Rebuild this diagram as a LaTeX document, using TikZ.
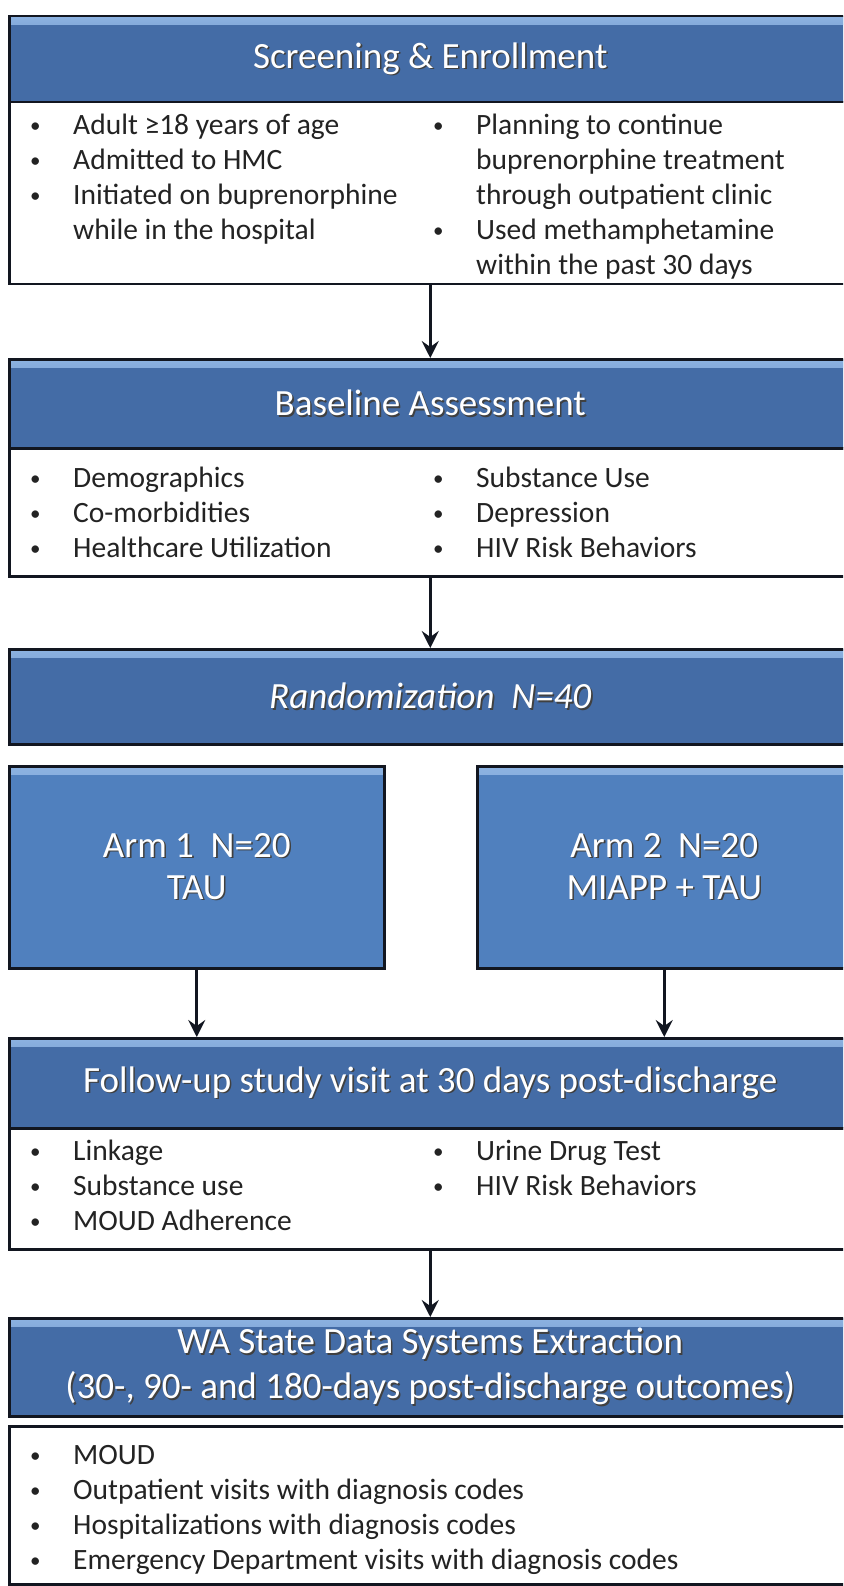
\documentclass[tikz,border=0pt]{standalone}
\usepackage{fontspec}
\setmainfont{Carlito}
\usepackage{array}
\usetikzlibrary{arrows.meta,positioning}
\definecolor{hdrblue}{RGB}{68,108,166}
\definecolor{armblue}{RGB}{80,128,190}
\definecolor{bevel}{RGB}{140,178,225}
\definecolor{edge}{RGB}{18,22,32}
\definecolor{bodytext}{RGB}{35,35,35}
\newcommand{\shd}[1]{\makebox[0pt][l]{\hspace{1.6pt}\raisebox{-1.6pt}{\color{black!75}#1}}#1}
\newcommand{\bl}{\hspace*{2pt}\raisebox{2pt}{\fontsize{21}{21}\selectfont\textbullet}}
\tikzset{
  hdr/.style={draw=edge, line width=2.5pt, fill=hdrblue, text=white, inner sep=0pt,
    anchor=north west, align=center, font=\fontsize{37}{45}\selectfont,
    path picture={\shade[top color=bevel, bottom color=#1]
      (path picture bounding box.north west) rectangle ([yshift=-8pt]path picture bounding box.north east);}},
  hdr/.default=hdrblue,
  arm/.style={hdr=armblue, fill=armblue, font=\fontsize{37}{42}\selectfont},
  bodybox/.style={draw=edge, line width=2.5pt, fill=white, anchor=north west, inner sep=0pt},
  col/.style={anchor=north west, inner sep=0pt, text=bodytext, font=\fontsize{29.5}{35}\selectfont},
  flow/.style={draw=edge, line width=2.6pt, -{Stealth[length=17pt,width=17pt,inset=6pt]}}
}

\begin{document}
\begin{tikzpicture}[x=1pt,y=-1pt]
  \useasboundingbox (0,0) rectangle (843,1586);
  \clip (0,0) rectangle (843,1586);

  % screening
  \node[hdr, minimum width=842pt, minimum height=86pt] (scrHead) at (8,15)
    {\shd{Screening \& Enrollment}};
  \node[bodybox, minimum width=842pt, minimum height=182pt] (scrBody) at (8,101) {};
  \node[col] (scrL) at (28,110) {\begin{tabular}{@{}p{45pt}@{}l@{}}
    \bl & Adult ≥18 years of age\\
    \bl & Admitted to HMC\\
    \bl & Initiated on buprenorphine\\
        & while in the hospital
  \end{tabular}};
  \node[col] (scrR) at (431,110) {\begin{tabular}{@{}p{45pt}@{}l@{}}
    \bl & Planning to continue\\
        & buprenorphine treatment\\
        & through outpatient clinic\\
    \bl & Used methamphetamine\\
        & within the past 30 days
  \end{tabular}};

  % baseline
  \node[hdr, minimum width=842pt, minimum height=89pt] (baseHead) at (8,358)
    {\shd{Baseline Assessment}};
  \node[bodybox, minimum width=842pt, minimum height=128pt] (baseBody) at (8,447) {};
  \node[col] (baseL) at (28,462.5) {\begin{tabular}{@{}p{45pt}@{}l@{}}
    \bl & Demographics\\
    \bl & Co-morbidities\\
    \bl & Healthcare Utilization
  \end{tabular}};
  \node[col] (baseR) at (431,462.5) {\begin{tabular}{@{}p{45pt}@{}l@{}}
    \bl & Substance Use\\
    \bl & Depression\\
    \bl & HIV Risk Behaviors
  \end{tabular}};

  % randomization and arms
  \node[hdr, minimum width=842pt, minimum height=95pt] (randHead) at (8,648)
    {\shd{\itshape Randomization\ \ N=40}};
  \node[arm, minimum width=375pt, minimum height=202pt] (arm1) at (8,765)
    {\shd{Arm 1\ \ N=20}\\\shd{TAU}};
  \node[arm, minimum width=374pt, minimum height=202pt] (arm2) at (476,765)
    {\shd{Arm 2\ \ N=20}\\\shd{MIAPP + TAU}};

  % follow-up
  \node[hdr, minimum width=842pt, minimum height=90pt] (fuHead) at (8,1037)
    {\shd{Follow-up study visit at 30 days post-discharge}};
  \node[bodybox, minimum width=842pt, minimum height=121pt] (fuBody) at (8,1127) {};
  \node[col] (fuL) at (28,1135.5) {\begin{tabular}{@{}p{45pt}@{}l@{}}
    \bl & Linkage\\
    \bl & Substance use\\
    \bl & MOUD Adherence
  \end{tabular}};
  \node[col] (fuR) at (431,1135.5) {\begin{tabular}{@{}p{45pt}@{}l@{}}
    \bl & Urine Drug Test\\
    \bl & HIV Risk Behaviors
  \end{tabular}};

  % state data
  \node[hdr, minimum width=842pt, minimum height=98pt] (waHead) at (8,1317)
    {\shd{WA State Data Systems Extraction}\\\shd{(30-, 90- and 180-days post-discharge outcomes)}};
  \node[bodybox, minimum width=842pt, minimum height=158pt] (waBody) at (8,1425) {};
  \node[col] (waL) at (28,1439.5) {\begin{tabular}{@{}p{45pt}@{}l@{}}
    \bl & MOUD\\
    \bl & Outpatient visits with diagnosis codes\\
    \bl & Hospitalizations with diagnosis codes\\
    \bl & Emergency Department visits with diagnosis codes
  \end{tabular}};

  \draw[flow] (scrBody.south) -- (baseHead.north);
  \draw[flow] (baseBody.south) -- (randHead.north);
  \draw[flow] (arm1.south) -- (arm1.south |- fuHead.north);
  \draw[flow] (arm2.south) -- (arm2.south |- fuHead.north);
  \draw[flow] (fuBody.south) -- (waHead.north);
\end{tikzpicture}
\end{document}
